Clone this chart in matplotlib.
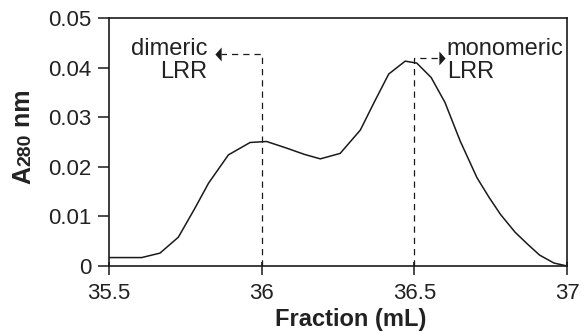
import matplotlib.pyplot as plt

plt.rcParams['font.family'] = ['Liberation Sans', 'DejaVu Sans']

# elution profile
fraction = [35.5, 35.607, 35.667, 35.727, 35.78, 35.826, 35.891, 35.962, 36.016,
            36.08, 36.14, 36.192, 36.257, 36.323, 36.37, 36.416, 36.47, 36.508,
            36.555, 36.6, 36.65, 36.705, 36.745, 36.782, 36.83, 36.869, 36.91,
            36.957, 37.0]
a280 = [0.0017, 0.0017, 0.0026, 0.0058, 0.0115, 0.0167, 0.0224, 0.0249, 0.0251,
        0.0238, 0.0225, 0.0216, 0.0227, 0.0274, 0.0332, 0.0387, 0.0413, 0.0409,
        0.0380, 0.0330, 0.0252, 0.0178, 0.0138, 0.0104, 0.0068, 0.0045, 0.0022,
        0.0006, 0.0]

xticks = [35.5, 36, 36.5, 37]
xlabels = ['35.5', '36', '36.5', '37']
yticks = [0, 0.01, 0.02, 0.03, 0.04, 0.05]
ylabels = ['0', '0.01', '0.02', '0.03', '0.04', '0.05']

# peak markers: x of peak, top of dashed line, arrow tip
dimer = (36.0, 0.0427, 35.848)
monomer = (36.5, 0.0420, 36.602)

ink = '#1a1a1a'
fig = plt.figure(figsize=(5.81, 3.33), dpi=100)
ax = fig.add_axes([0.1876, 0.2012, 0.7884, 0.7448])

ax.plot(fraction, a280, color=ink, lw=1.1)

# thin tall arrow heads
left_head = [(-0.45, 0), (0.45, 1), (0.45, -1), (-0.45, 0)]
right_head = [(0.45, 0), (-0.45, 1), (-0.45, -1), (0.45, 0)]
hw = 0.01
ax.plot([dimer[0], dimer[0], dimer[2] + 2 * hw], [0, dimer[1], dimer[1]],
        color=ink, lw=0.9, dashes=(5, 4))
ax.plot([monomer[0], monomer[0], monomer[2] - 2 * hw], [0, monomer[1], monomer[1]],
        color=ink, lw=0.9, dashes=(5, 4))
ax.plot(dimer[2] + hw, dimer[1], marker=left_head, color=ink, ms=10, mew=0)
ax.plot(monomer[2] - hw, monomer[1], marker=right_head, color=ink, ms=10, mew=0)

ax.text(35.821, 0.0415, 'dimeric\nLRR', ha='right', va='center', fontsize=17,
        multialignment='right', linespacing=1.05, color='#222222')
ax.text(36.606, 0.0415, 'monomeric\nLRR', ha='left', va='center', fontsize=17,
        multialignment='left', linespacing=1.05, color='#222222')

ax.set_xlim(35.5, 37)
ax.set_ylim(0, 0.05)
ax.set_xticks(xticks)
ax.set_xticklabels(xlabels)
ax.set_yticks(yticks)
ax.set_yticklabels(ylabels)
# small inward stub on the x ticks as in the original
ax.set_xticks(xticks, minor=True)
ax.xaxis.remove_overlapping_locs = False
ax.tick_params(labelsize=16, width=1.1, colors=ink, labelcolor='#222222')
ax.tick_params(axis='x', which='major', direction='out', length=6.5, pad=5.5)
ax.tick_params(axis='x', which='minor', direction='in', length=3, width=1.1)
ax.tick_params(axis='y', direction='out', length=8, pad=4.5)
for s in ax.spines.values():
    s.set_linewidth(1.2)
    s.set_color(ink)

fig.text(351 / 581, 7 / 333, 'Fraction (mL)', fontsize=17, fontweight='bold',
         ha='center', va='baseline', color='#222222')

# y label: "A" and "nm" large, "280" smaller on the same baseline, rotated
r = fig.canvas.get_renderer()
ypos = 184.0
for piece, size in (('A', 18), ('280', 14), (' nm', 18)):
    t = fig.text(30 / 581, (333 - ypos) / 333, piece, fontsize=size,
                 fontweight='bold', rotation=90, rotation_mode='anchor',
                 ha='left', va='baseline', color='#222222')
    ypos -= t.get_window_extent(r).height

fig.savefig('out.png', dpi=100)
